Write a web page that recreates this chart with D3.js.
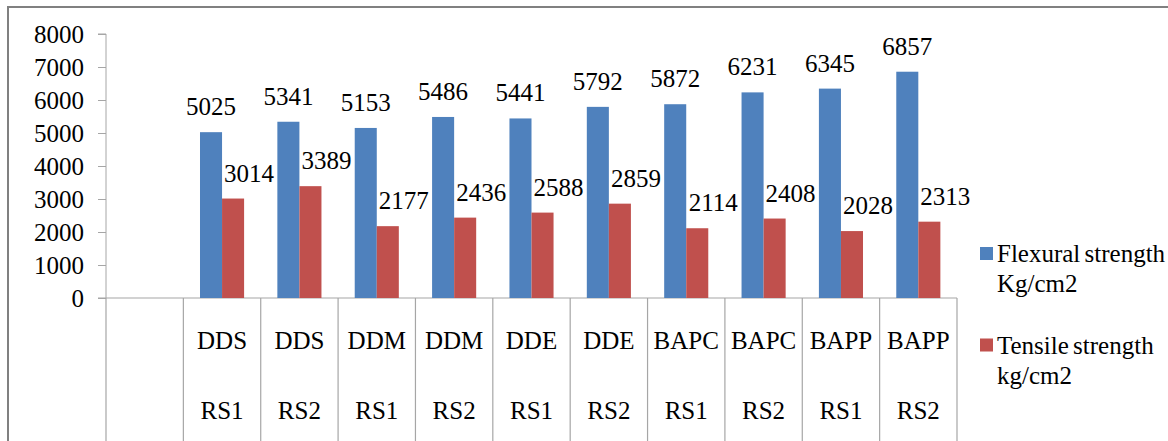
<!DOCTYPE html>
<html>
<head>
<meta charset="utf-8">
<script src="https://cdn.jsdelivr.net/npm/d3@7/dist/d3.min.js"></script>
<style>
  html, body { margin: 0; padding: 0; background: #fff; }
  svg { display: block; }
</style>
</head>
<body>
<svg id="chart" width="1168" height="441"></svg>
<script>
// ---- data ----
const categoryTop = ["", "DDS", "DDS", "DDM", "DDM", "DDE", "DDE", "BAPC", "BAPC", "BAPP", "BAPP"];
const categoryBottom = ["", "RS1", "RS2", "RS1", "RS2", "RS1", "RS2", "RS1", "RS2", "RS1", "RS2"];
const flexural = [null, 5025, 5341, 5153, 5486, 5441, 5792, 5872, 6231, 6345, 6857];
const tensile = [null, 3014, 3389, 2177, 2436, 2588, 2859, 2114, 2408, 2028, 2313];
const seriesNames = [["Flexural strength", "Kg/cm2"], ["Tensile strength", "kg/cm2"]];
const yTicks = [0, 1000, 2000, 3000, 4000, 5000, 6000, 7000, 8000];

// ---- layout ----
const svg = d3.select("#chart")
  .attr("font-family", "Liberation Serif")
  .style("font-family", '"Liberation Serif"');
const colors = ["#4f81bd", "#c0504d"];
const gridColor = "#a6a6a6";
const fontSize = 25;

function serifText(sel) {
  return sel
    .attr("font-family", "Liberation Serif")
    .attr("font-size", fontSize)
    .attr("fill", "#000")
    .style("font-family", '"Liberation Serif"')
    .style("font-size", fontSize + "px");
}

const plotLeft = 106, plotRight = 957, plotTop = 34, plotBottom = 298, tableBottom = 441;

// outer frame (left and top)
svg.append("path")
  .attr("d", `M8,441 V7 H1168`)
  .attr("fill", "none").attr("stroke", "#808080").attr("stroke-width", 2);

const idx = d3.range(categoryTop.length);
const x = d3.scaleBand().domain(idx).range([plotLeft, plotRight]).paddingInner(0).paddingOuter(0);
const y = d3.scaleLinear().domain([0, 8000]).range([plotBottom, plotTop]);

const groupFrac = 0.57;
const x1 = d3.scaleBand().domain([0, 1]).range([0, x.bandwidth() * groupFrac]);
const groupOffset = (x.bandwidth() - x.bandwidth() * groupFrac) / 2;

// y axis
const yAxis = d3.axisLeft(y).tickValues(yTicks).tickSize(8).tickPadding(14).tickFormat(d3.format("d"));
const gy = svg.append("g").attr("transform", `translate(${plotLeft},0)`).call(yAxis);
gy.attr("font-family", "Liberation Serif").attr("font-size", fontSize);
gy.select(".domain").attr("stroke", gridColor).attr("d", `M-8,${plotTop}H0V${plotBottom}`);
gy.selectAll(".tick line").attr("stroke", gridColor);
serifText(gy.selectAll(".tick text")).attr("dy", "0.34em");

// category table lines
const boundaries = idx.map(i => x(i)).concat([plotRight]);
svg.append("g").selectAll("line").data(boundaries).join("line")
  .attr("x1", d => d).attr("x2", d => d)
  .attr("y1", plotBottom).attr("y2", tableBottom)
  .attr("stroke", gridColor).attr("stroke-width", 1.2);
svg.append("line")
  .attr("x1", plotLeft - 8).attr("x2", plotRight)
  .attr("y1", plotBottom).attr("y2", plotBottom)
  .attr("stroke", gridColor).attr("stroke-width", 1.2);

// category labels
const catG = svg.append("g");
serifText(catG.selectAll("text.top").data(idx.filter(i => categoryTop[i] !== "")).join("text").attr("class", "top"))
  .attr("x", i => x(i) + x.bandwidth() / 2).attr("y", 349)
  .attr("text-anchor", "middle")
  .text(i => categoryTop[i]);
serifText(catG.selectAll("text.bot").data(idx.filter(i => categoryBottom[i] !== "")).join("text").attr("class", "bot"))
  .attr("x", i => x(i) + x.bandwidth() / 2).attr("y", 419)
  .attr("text-anchor", "middle")
  .text(i => categoryBottom[i]);

// bars
const series = [flexural, tensile];
series.forEach((vals, s) => {
  const data = idx.filter(i => vals[i] != null).map(i => ({ i, v: vals[i] }));
  const g = svg.append("g");
  g.selectAll("rect").data(data).join("rect")
    .attr("x", d => x(d.i) + groupOffset + x1(s))
    .attr("width", x1.bandwidth())
    .attr("y", d => y(d.v))
    .attr("height", d => y(0) - y(d.v))
    .attr("fill", colors[s]);
  serifText(g.selectAll("text").data(data).join("text"))
    .attr("x", d => x(d.i) + groupOffset + x1(s) + x1.bandwidth() / 2 + (s === 1 ? 16 : 0))
    .attr("y", d => y(d.v) - 17)
    .attr("text-anchor", "middle")
    .text(d => d.v);
});

// legend
const legendY = [253.5, 345];
const legend = svg.append("g");
seriesNames.forEach((lines, s) => {
  legend.append("rect")
    .attr("x", 980).attr("y", legendY[s] - 6.5).attr("width", 13).attr("height", 13)
    .attr("fill", colors[s]);
  lines.forEach((t, k) => {
    serifText(legend.append("text"))
      .attr("x", 997).attr("y", legendY[s] + 8.5 + k * 30)
      .style("word-spacing", "-2px")
      .text(t);
  });
});
</script>
</body>
</html>
